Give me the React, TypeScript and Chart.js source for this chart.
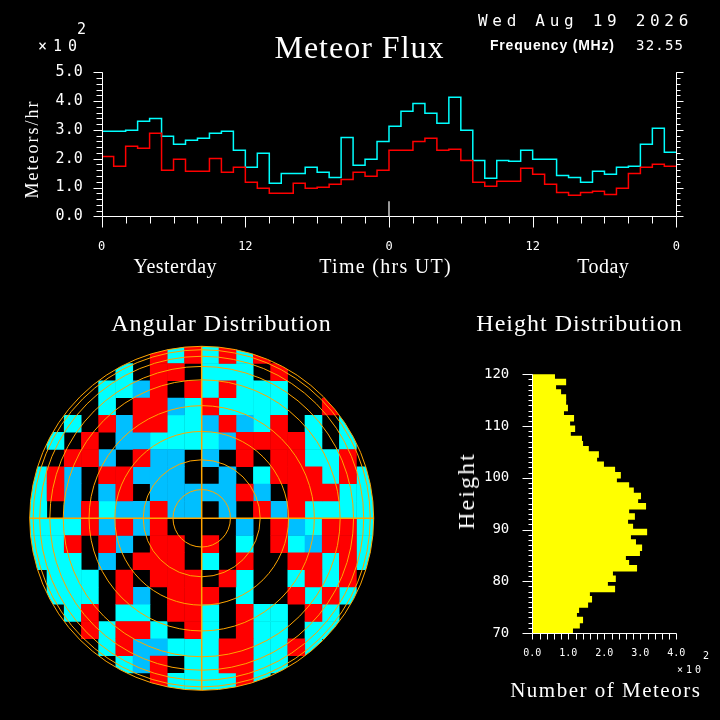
import { useEffect, useRef } from "react"
import { Chart, registerables } from "chart.js"

Chart.register(...registerables)

// hourly bins, 00 UT yesterday .. 23 UT today
const hours = [
  0, 1, 2, 3, 4, 5, 6, 7, 8, 9, 10, 11, 12, 13, 14, 15, 16, 17, 18, 19, 20, 21, 22, 23,
  24, 25, 26, 27, 28, 29, 30, 31, 32, 33, 34, 35, 36, 37, 38, 39, 40, 41, 42, 43, 44, 45, 46, 47,
]
// meteors per hour (x100)
const fluxCyan = [
  2.95, 2.95, 2.99, 3.3, 3.4, 2.78, 2.5, 2.64, 2.71, 2.88, 2.95, 2.29,
  1.7, 2.19, 1.15, 1.49, 1.49, 1.7, 1.53, 1.35, 2.74, 1.77, 1.98, 2.6,
  3.13, 3.65, 3.92, 3.58, 3.23, 4.13, 2.99, 1.94, 1.32, 1.94, 1.91, 2.29,
  1.98, 1.98, 1.42, 1.35, 1.18, 1.56, 1.46, 1.7, 1.74, 2.5, 3.06, 2.22,
]
const fluxRed = [
  2.08, 1.74, 2.43, 2.36, 2.88, 1.6, 1.98, 1.56, 1.56, 2.01, 1.53, 1.7,
  1.18, 0.97, 0.8, 0.8, 1.15, 0.97, 1.01, 1.11, 1.28, 1.53, 1.39, 1.6,
  2.29, 2.29, 2.6, 2.71, 2.29, 2.33, 1.94, 1.18, 1.04, 1.22, 1.22, 1.67,
  1.46, 1.11, 0.83, 0.73, 0.83, 0.87, 0.76, 0.97, 1.49, 1.7, 1.81, 1.74,
]
const nowHour = 24
const nowMark = [0, 0.52]
const timeTickLabels = ["0", "12", "0", "12", "0"]
const rateTickLabels = ["0.0", "1.0", "2.0", "3.0", "4.0", "5.0"]

// height histogram, 1 km bins (lower edge), counts x100
const heightBins = [
  70, 71, 72, 73, 74, 75, 76, 77, 78, 79, 80, 81, 82, 83, 84, 85, 86, 87, 88, 89, 90, 91, 92, 93, 94,
  95, 96, 97, 98, 99, 100, 101, 102, 103, 104, 105, 106, 107, 108, 109, 110, 111, 112, 113, 114, 115,
  116, 117, 118, 119,
]
const heightCounts = [
  1.13, 1.32, 1.41, 1.24, 1.3, 1.55, 1.66, 1.6, 2.3, 2.1, 2.32, 2.24, 2.91, 2.69, 2.6, 2.99, 3.05,
  2.88, 2.74, 3.19, 2.8, 2.66, 2.85, 2.69, 3.16, 2.94, 3.02, 2.82, 2.69, 2.35, 2.46, 2.3, 1.99, 1.8,
  1.85, 1.57, 1.41, 1.38, 1.07, 1.19, 1.05, 1.16, 0.88, 0.99, 0.94, 0.94, 0.8, 0.66, 0.94, 0.63,
]
const heightTickLabels = ["70", "80", "90", "100", "110", "120"]
const countTickLabels = ["0.0", "1.0", "2.0", "3.0", "4.0"]

// angular distribution, dominant colour per sky cell (C cyan, B blue, R red, K empty)
const skyGrid = [
  ".......RCRCRCR......",
  ".....CKRRKCCCKR.....",
  "....CCBRKRCRCCCKK...",
  "...KCKRRBCRCCCCKKR..",
  "..CKRBRRCCBRBCRKCKC.",
  ".CKRKBBCCCCBRRRRCKC.",
  ".KRRBKRBBKBKRKRRCCR.",
  "CRBKRRBBBKKBKCRRRCRC",
  "CRBKBRKBBBBBRBKRRRCC",
  "CKBRCBBRBBKBKRBRCCCC",
  "CCCRBRBRKKKKBKRBCRRC",
  "CCRKRBKRRKRKCKRCBRRC",
  "CCCKBKRRRKCKRKKRRCRC",
  ".CCCKRKRRRKRCKKCRCR.",
  ".CCCKRBKRRRKCKKRCRC.",
  "..CRKCCKRRCKRCCKRC..",
  "...RCRRCKRCKRCCKCC..",
  "....CRBBCCCRRCCRC...",
  ".....CBRKCCRRCC.....",
  ".......RCCCCRC......",
]
const ringRadii = [0.167, 0.34, 0.505, 0.655, 0.805, 0.883, 0.942, 0.98, 1.0]

const MONO = "DejaVu Sans Mono"
const SERIF = "Liberation Serif"

function line(ctx, x1, y1, x2, y2) {
  ctx.beginPath()
  ctx.moveTo(x1, y1)
  ctx.lineTo(x2, y2)
  ctx.stroke()
}
const px = (v) => Math.round(v) + 0.5

const fluxFrame = {
  id: "fluxFrame",
  afterDraw(chart) {
    const { ctx, chartArea: a, scales } = chart
    const { x, y } = scales
    const l = px(a.left)
    const r = px(a.right)
    const b = px(a.bottom)
    ctx.save()
    ctx.strokeStyle = "#fff"
    ctx.lineWidth = 1
    line(ctx, l, a.top, l, b)
    line(ctx, r, a.top, r, b)
    line(ctx, l, b, r, b)
    for (let i = 0; i <= y.max * 5; i++) {
      const yy = px(y.getPixelForValue(i / 5))
      const major = i % 5 === 0
      line(ctx, l - (major ? 9 : 6), yy, l, yy)
      line(ctx, r, yy, r + (major ? 7 : 4), yy)
    }
    for (let h = 0; h <= x.max; h += 2) {
      const xx = px(x.getPixelForValue(h))
      line(ctx, xx, b, xx, b + (h % 12 === 0 ? 11 : 7))
    }
    ctx.restore()
  },
}

const skyFrame = {
  id: "skyFrame",
  beforeDatasetsDraw(chart) {
    const { ctx, scales } = chart
    const cx = scales.x.getPixelForValue(0)
    const cy = scales.y.getPixelForValue(0)
    const r = scales.x.getPixelForValue(1) - cx
    ctx.save()
    ctx.beginPath()
    ctx.arc(cx, cy, r, 0, Math.PI * 2)
    ctx.clip()
  },
  afterDatasetsDraw(chart) {
    const { ctx, scales } = chart
    ctx.restore()
    const cx = scales.x.getPixelForValue(0)
    const cy = scales.y.getPixelForValue(0)
    const unit = scales.x.getPixelForValue(1) - cx
    ctx.save()
    ctx.strokeStyle = "#ffa500"
    ctx.lineWidth = 1
    ringRadii.forEach((rr) => {
      ctx.beginPath()
      ctx.arc(cx, cy, rr * unit, 0, Math.PI * 2)
      ctx.stroke()
    })
    ctx.lineWidth = 1.5
    line(ctx, cx - unit, cy, cx + unit, cy)
    line(ctx, cx, cy - unit, cx, cy + unit)
    ctx.restore()
  },
}

const heightFrame = {
  id: "heightFrame",
  afterDraw(chart) {
    const { ctx, chartArea: a, scales } = chart
    const { x, y } = scales
    const l = px(a.left)
    const b = px(a.bottom)
    ctx.save()
    ctx.strokeStyle = "#fff"
    ctx.lineWidth = 1
    line(ctx, l, a.top, l, b)
    line(ctx, l, b, px(a.right), b)
    for (let h = y.min; h <= y.max; h++) {
      const yy = px(y.getPixelForValue(h))
      line(ctx, l - (h % 10 === 0 ? 10 : 4), yy, l, yy)
    }
    for (let i = 0; i <= x.max * 5; i++) {
      const xx = px(x.getPixelForValue(i / 5))
      line(ctx, xx, b, xx, b + 6)
    }
    ctx.restore()
  },
}

function stepPoints(values) {
  const pts = values.map((v, i) => ({ x: hours[i], y: v }))
  pts.push({ x: hours[hours.length - 1] + 1, y: values[values.length - 1] })
  return pts
}

function FluxChart() {
  const chartRef = useRef(null)
  const chartInstance = useRef(null)

  useEffect(() => {
    if (chartInstance.current) chartInstance.current.destroy()
    chartInstance.current = new Chart(chartRef.current.getContext("2d"), {
      type: "line",
      data: {
        datasets: [
          {
            data: stepPoints(fluxRed),
            borderColor: "#ff0000",
            borderWidth: 1.5,
            stepped: true,
            pointRadius: 0,
          },
          {
            data: stepPoints(fluxCyan),
            borderColor: "#00ffff",
            borderWidth: 1.5,
            stepped: true,
            pointRadius: 0,
          },
          {
            data: nowMark.map((v) => ({ x: nowHour, y: v })),
            borderColor: "#ffffff",
            borderWidth: 1.2,
            pointRadius: 0,
          },
        ],
      },
      options: {
        animation: false,
        responsive: false,
        events: [],
        layout: { padding: { top: 72.3, right: 43.7, left: 0, bottom: 0 } },
        plugins: { legend: { display: false }, tooltip: { enabled: false } },
        scales: {
          x: {
            type: "linear",
            min: 0,
            max: 48,
            grid: { display: false, drawTicks: false },
            border: { display: false },
            ticks: {
              stepSize: 12,
              color: "#fff",
              padding: 23,
              font: { family: MONO, size: 12 },
              callback: (_v, i) => timeTickLabels[i],
            },
            afterFit: (s) => {
              s.height = 43.7
            },
          },
          y: {
            min: 0,
            max: 5,
            grid: { display: false, drawTicks: false },
            border: { display: false },
            ticks: {
              stepSize: 1,
              color: "#fff",
              padding: 19,
              font: { family: MONO, size: 15 },
              callback: (_v, i) => rateTickLabels[i],
            },
            afterFit: (s) => {
              s.width = 101.7
            },
          },
        },
      },
      plugins: [fluxFrame],
    })
    return () => {
      if (chartInstance.current) chartInstance.current.destroy()
    }
  }, [])

  return <canvas ref={chartRef} width={720} height={260} style={{ position: "absolute", left: 0, top: 0 }} />
}

function skyCells(code) {
  const out = []
  skyGrid.forEach((row, r) => {
    row.split("").forEach((c, col) => {
      if (c === code) out.push({ x: -1 + (col + 0.5) * 0.1, y: 1 - (r + 0.5) * 0.1 })
    })
  })
  return out
}

function AngularChart() {
  const chartRef = useRef(null)
  const chartInstance = useRef(null)

  useEffect(() => {
    if (chartInstance.current) chartInstance.current.destroy()
    const cell = { pointStyle: "rect", pointRadius: 12.45, borderWidth: 0 }
    chartInstance.current = new Chart(chartRef.current.getContext("2d"), {
      type: "scatter",
      data: {
        datasets: [
          { data: skyCells("R"), backgroundColor: "#ff0000", ...cell },
          { data: skyCells("B"), backgroundColor: "#00bfff", ...cell },
          { data: skyCells("C"), backgroundColor: "#00ffff", ...cell },
        ],
      },
      options: {
        animation: false,
        responsive: false,
        events: [],
        layout: { padding: { left: 29.7, top: 16.3, right: 26.3, bottom: 29.7 } },
        plugins: { legend: { display: false }, tooltip: { enabled: false } },
        scales: {
          x: { min: -1, max: 1, display: false },
          y: { min: -1, max: 1, display: false },
        },
      },
      plugins: [skyFrame],
    })
    return () => {
      if (chartInstance.current) chartInstance.current.destroy()
    }
  }, [])

  return <canvas ref={chartRef} width={400} height={390} style={{ position: "absolute", left: 0, top: 330 }} />
}

function HeightChart() {
  const chartRef = useRef(null)
  const chartInstance = useRef(null)

  useEffect(() => {
    if (chartInstance.current) chartInstance.current.destroy()
    chartInstance.current = new Chart(chartRef.current.getContext("2d"), {
      type: "bar",
      data: {
        datasets: [
          {
            data: heightBins.map((h, i) => ({ x: heightCounts[i], y: h + 0.5 })),
            backgroundColor: "#ffff00",
            borderWidth: 0,
            barThickness: 6.5,
            inflateAmount: 0,
          },
        ],
      },
      options: {
        indexAxis: "y",
        animation: false,
        responsive: false,
        events: [],
        layout: { padding: { top: 44.3, right: 43.7, left: 0, bottom: 0 } },
        plugins: { legend: { display: false }, tooltip: { enabled: false } },
        scales: {
          x: {
            type: "linear",
            min: 0,
            max: 4,
            grid: { display: false, drawTicks: false },
            border: { display: false },
            ticks: {
              stepSize: 1,
              color: "#fff",
              padding: 14,
              font: { family: MONO, size: 10 },
              callback: (_v, i) => countTickLabels[i],
            },
            afterFit: (s) => {
              s.height = 87
            },
          },
          y: {
            type: "linear",
            min: 70,
            max: 120,
            offset: false,
            grid: { display: false, drawTicks: false },
            border: { display: false },
            ticks: {
              stepSize: 10,
              color: "#fff",
              padding: 23,
              font: { family: MONO, size: 14 },
              callback: (_v, i) => heightTickLabels[i],
            },
            afterFit: (s) => {
              s.width = 132.3
            },
          },
        },
      },
      plugins: [heightFrame],
    })
    return () => {
      if (chartInstance.current) chartInstance.current.destroy()
    }
  }, [])

  return <canvas ref={chartRef} width={320} height={390} style={{ position: "absolute", left: 400, top: 330 }} />
}

function Label({ x, y, text, size, font, weight = 400, spacing = 0, rotate = false, anchor = "center" }) {
  const tx = anchor === "left" ? "0" : "-50%"
  return (
    <div
      style={{
        position: "absolute",
        left: x,
        top: y,
        transform: `translate(${tx}, -50%)${rotate ? " rotate(-90deg)" : ""}`,
        color: "#fff",
        fontFamily: font,
        fontSize: size,
        fontWeight: weight,
        letterSpacing: spacing,
        paddingLeft: anchor === "left" ? 0 : spacing,
        lineHeight: 1,
        whiteSpace: "nowrap",
      }}
    >
      {text}
    </div>
  )
}

export default function App() {
  return (
    <div style={{ position: "fixed", left: 0, top: 0, width: 720, height: 720, background: "#000", overflow: "hidden" }}>
      <FluxChart />
      <AngularChart />
      <HeightChart />

      <Label x={38} y={46} text="×10" size={15} font={MONO} spacing={6} anchor="left" />
      <Label x={77} y={29} text="2" size={15} font={MONO} anchor="left" />
      <Label x={359} y={47} text="Meteor Flux" size={32} font={SERIF} spacing={1} />
      <Label x={478} y={21} text="Wed Aug 19 2026" size={16} font={MONO} spacing={4.7} anchor="left" />
      <Label x={490} y={45} text="Frequency (MHz)" size={14} font="Liberation Sans" weight={700} spacing={0.8} anchor="left" />
      <Label x={636} y={45} text="32.55" size={14} font={MONO} spacing={1.2} anchor="left" />
      <Label x={32} y={150} text="Meteors/hr" size={18} font={SERIF} spacing={2} rotate />
      <Label x={175} y={266} text="Yesterday" size={20} font={SERIF} spacing={0.5} />
      <Label x={385} y={266} text="Time (hrs UT)" size={20} font={SERIF} spacing={1.3} />
      <Label x={603} y={266} text="Today" size={20} font={SERIF} spacing={0.5} />

      <Label x={221} y={323} text="Angular Distribution" size={24} font={SERIF} spacing={1} />
      <Label x={579} y={323} text="Height Distribution" size={24} font={SERIF} spacing={1} />
      <Label x={466} y={492} text="Height" size={24} font={SERIF} spacing={2} rotate />
      <Label x={605} y={690} text="Number of Meteors" size={21} font={SERIF} spacing={1.5} />
      <Label x={677} y={670} text="×10" size={10} font={MONO} spacing={3} anchor="left" />
      <Label x={703} y={656} text="2" size={10} font={MONO} anchor="left" />
    </div>
  )
}
